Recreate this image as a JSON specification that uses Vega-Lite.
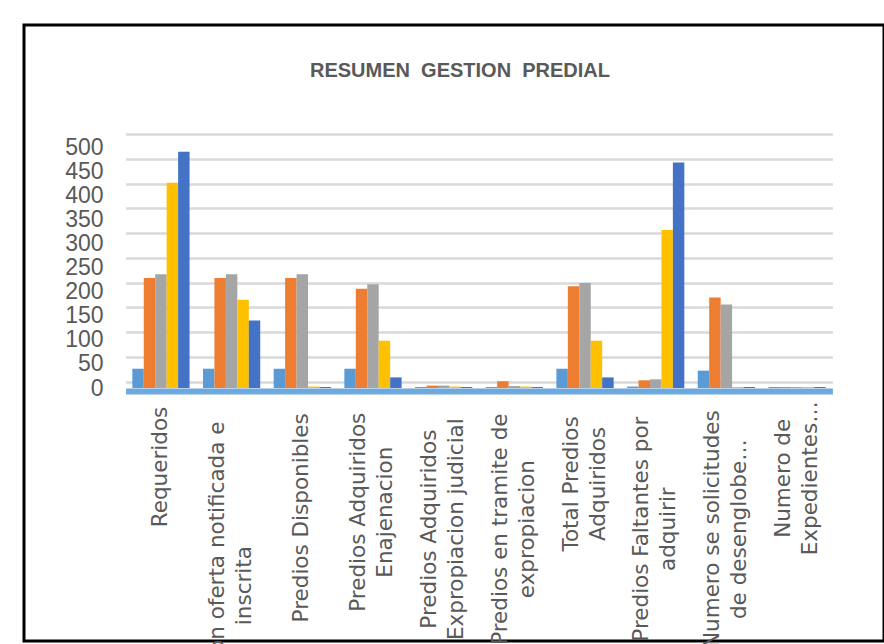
{
  "$schema": "https://vega.github.io/schema/vega-lite/v6.json",
  "width": 860,
  "height": 616,
  "autosize": {"type": "none"},
  "padding": {"left": 24, "top": 25, "right": 0, "bottom": 3},
  "background": "white",
  "config": {"view": {"stroke": "#000000", "strokeWidth": 3}},
  "title": {
    "text": "RESUMEN\u00a0 GESTION\u00a0 PREDIAL",
    "font": "'Liberation Sans Narrow', 'Liberation Sans', sans-serif",
    "fontSize": 20,
    "fontWeight": "bold",
    "color": "#595959",
    "anchor": "middle",
    "frame": "group",
    "offset": -72,
    "baseline": "alphabetic",
    "dx": 6
  },
  "data": {
    "values": [
      {"categoria": "Requeridos", "serie": "Serie 1", "valor": 40},
      {"categoria": "Requeridos", "serie": "Serie 2", "valor": 228},
      {"categoria": "Requeridos", "serie": "Serie 3", "valor": 236},
      {"categoria": "Requeridos", "serie": "Serie 4", "valor": 426},
      {"categoria": "Requeridos", "serie": "Serie 5", "valor": 490},
      {"categoria": "Predios con oferta notificada e\ninscrita", "serie": "Serie 1", "valor": 40},
      {"categoria": "Predios con oferta notificada e\ninscrita", "serie": "Serie 2", "valor": 228},
      {"categoria": "Predios con oferta notificada e\ninscrita", "serie": "Serie 3", "valor": 236},
      {"categoria": "Predios con oferta notificada e\ninscrita", "serie": "Serie 4", "valor": 183},
      {"categoria": "Predios con oferta notificada e\ninscrita", "serie": "Serie 5", "valor": 140},
      {"categoria": "Predios Disponibles", "serie": "Serie 1", "valor": 40},
      {"categoria": "Predios Disponibles", "serie": "Serie 2", "valor": 228},
      {"categoria": "Predios Disponibles", "serie": "Serie 3", "valor": 236},
      {"categoria": "Predios Disponibles", "serie": "Serie 4", "valor": 3},
      {"categoria": "Predios Disponibles", "serie": "Serie 5", "valor": 2},
      {"categoria": "Predios Adquiridos\nEnajenacion", "serie": "Serie 1", "valor": 40},
      {"categoria": "Predios Adquiridos\nEnajenacion", "serie": "Serie 2", "valor": 206},
      {"categoria": "Predios Adquiridos\nEnajenacion", "serie": "Serie 3", "valor": 215},
      {"categoria": "Predios Adquiridos\nEnajenacion", "serie": "Serie 4", "valor": 98},
      {"categoria": "Predios Adquiridos\nEnajenacion", "serie": "Serie 5", "valor": 22},
      {"categoria": "Predios Adquiridos\nExpropiacion judicial", "serie": "Serie 1", "valor": 2},
      {"categoria": "Predios Adquiridos\nExpropiacion judicial", "serie": "Serie 2", "valor": 5},
      {"categoria": "Predios Adquiridos\nExpropiacion judicial", "serie": "Serie 3", "valor": 5},
      {"categoria": "Predios Adquiridos\nExpropiacion judicial", "serie": "Serie 4", "valor": 3},
      {"categoria": "Predios Adquiridos\nExpropiacion judicial", "serie": "Serie 5", "valor": 2},
      {"categoria": "Predios en tramite de\nexpropiacion", "serie": "Serie 1", "valor": 2},
      {"categoria": "Predios en tramite de\nexpropiacion", "serie": "Serie 2", "valor": 14},
      {"categoria": "Predios en tramite de\nexpropiacion", "serie": "Serie 3", "valor": 4},
      {"categoria": "Predios en tramite de\nexpropiacion", "serie": "Serie 4", "valor": 3},
      {"categoria": "Predios en tramite de\nexpropiacion", "serie": "Serie 5", "valor": 2},
      {"categoria": "Total Predios\nAdquiridos", "serie": "Serie 1", "valor": 40},
      {"categoria": "Total Predios\nAdquiridos", "serie": "Serie 2", "valor": 211},
      {"categoria": "Total Predios\nAdquiridos", "serie": "Serie 3", "valor": 218},
      {"categoria": "Total Predios\nAdquiridos", "serie": "Serie 4", "valor": 98},
      {"categoria": "Total Predios\nAdquiridos", "serie": "Serie 5", "valor": 22},
      {"categoria": "Predios Faltantes por\nadquirir", "serie": "Serie 1", "valor": 3},
      {"categoria": "Predios Faltantes por\nadquirir", "serie": "Serie 2", "valor": 16},
      {"categoria": "Predios Faltantes por\nadquirir", "serie": "Serie 3", "valor": 18},
      {"categoria": "Predios Faltantes por\nadquirir", "serie": "Serie 4", "valor": 328},
      {"categoria": "Predios Faltantes por\nadquirir", "serie": "Serie 5", "valor": 468},
      {"categoria": "Numero se solicitudes\nde desenglobe…", "serie": "Serie 1", "valor": 36},
      {"categoria": "Numero se solicitudes\nde desenglobe…", "serie": "Serie 2", "valor": 188},
      {"categoria": "Numero se solicitudes\nde desenglobe…", "serie": "Serie 3", "valor": 173},
      {"categoria": "Numero se solicitudes\nde desenglobe…", "serie": "Serie 4", "valor": 2},
      {"categoria": "Numero se solicitudes\nde desenglobe…", "serie": "Serie 5", "valor": 2},
      {"categoria": "Numero de\nExpedientes…", "serie": "Serie 1", "valor": 2},
      {"categoria": "Numero de\nExpedientes…", "serie": "Serie 2", "valor": 2},
      {"categoria": "Numero de\nExpedientes…", "serie": "Serie 3", "valor": 2},
      {"categoria": "Numero de\nExpedientes…", "serie": "Serie 4", "valor": 2},
      {"categoria": "Numero de\nExpedientes…", "serie": "Serie 5", "valor": 2}
    ]
  },
  "encoding": {
    "x": {
      "field": "categoria",
      "type": "nominal",
      "sort": null,
      "scale": {"range": [101.6, 808.4], "paddingInner": 0.19, "paddingOuter": 0.095},
      "axis": {
        "title": null,
        "orient": "bottom",
        "offset": -250,
        "ticks": false,
        "domainColor": "#6FA8DC",
        "domainWidth": 6,
        "labelAngle": -90,
        "labelAlign": "center",
        "labelBaseline": "middle",
        "labelPadding": {"expr": "19 + 5.65 * (indexof(datum.value, '\\n') < 0 ? length(datum.value) : max(indexof(datum.value, '\\n'), length(datum.value) - indexof(datum.value, '\\n') - 1))"},
        "labelOffset": {"expr": "indexof(datum.value, '\\n') < 0 ? 0 : -13.5"},
        "labelFont": "DejaVu Sans",
        "labelFontSize": 21.5,
        "labelColor": "#595959",
        "labelLimit": 0,
        "labelLineHeight": 27,
        "labelOverlap": false,
        "labelExpr": "split(datum.value, '\\n')"
      }
    },
    "xOffset": {"field": "serie", "type": "nominal", "sort": null, "scale": {"paddingInner": 0, "paddingOuter": 0}},
    "color": {
      "field": "serie",
      "type": "nominal",
      "sort": null,
      "scale": {"range": ["#5B9BD5", "#ED7D31", "#A5A5A5", "#FFC000", "#4472C4"]},
      "legend": null
    }
  },
  "layer": [
    {
      "mark": {"type": "bar", "opacity": 0},
      "encoding": {
        "y": {
          "field": "valor",
          "type": "quantitative",
          "scale": {"domain": [0, 500], "range": [356.7, 109], "nice": false},
          "axis": {
            "title": null,
            "orient": "left",
            "grid": true,
            "labels": false,
            "ticks": false,
            "domain": false,
            "values": [0, 50, 100, 150, 200, 250, 300, 350, 400, 450, 500],
            "gridColor": "#D9D9D9",
            "gridWidth": 2.5
          }
        }
      }
    },
    {
      "mark": {"type": "bar"},
      "encoding": {
        "y": {
          "field": "valor",
          "type": "quantitative",
          "scale": {"domain": [0, 500], "range": [363, 122], "nice": false},
          "axis": {
            "title": null,
            "orient": "left",
            "offset": -80,
            "grid": false,
            "ticks": false,
            "domain": false,
            "values": [0, 50, 100, 150, 200, 250, 300, 350, 400, 450, 500],
            "labelFont": "'Liberation Sans Narrow', 'Liberation Sans', sans-serif",
            "labelFontSize": 23,
            "labelColor": "#595959",
            "labelPadding": 1,
            "labelOverlap": false,
            "labelFlush": false,
            "labelBaseline": "middle"
          }
        }
      }
    }
  ],
  "resolve": {"scale": {"y": "independent"}, "axis": {"y": "independent"}}
}
